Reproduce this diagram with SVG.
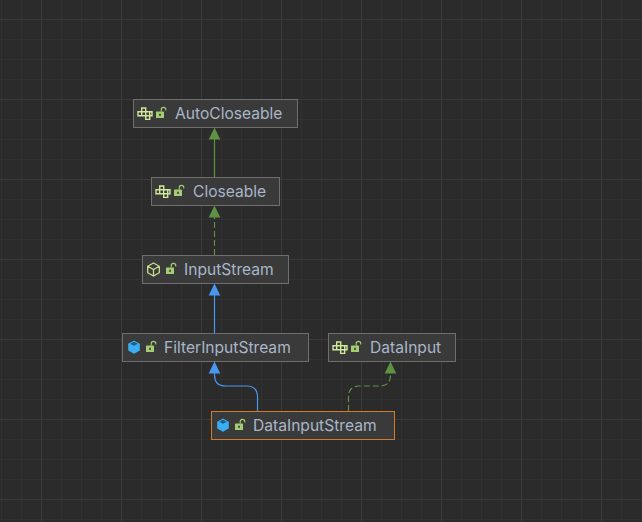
<svg xmlns="http://www.w3.org/2000/svg" width="642" height="522" viewBox="0 0 642 522">
<defs>
<style>
.minor{stroke:#313131;stroke-width:1;fill:none}
.major{stroke:#3a3a3a;stroke-width:1;fill:none}
.box{fill:#3a3a3a;stroke:#6e6e6e;stroke-width:1}
.sel{fill:#3a3a3a;stroke:#d27a2c;stroke-width:1}
.lbl{font-family:"Inter","Liberation Sans",sans-serif;font-size:15.6px;fill:#a8b6c8}
.g{stroke:#5f9142;stroke-width:1.2;fill:none}
.d{stroke-dasharray:6 3}
.b{stroke:#4b97ee;stroke-width:1.2;fill:none}
.ifc{fill:none;stroke:#cfe89a;stroke-width:1.4}
.lock{fill:#a4cc73}
.lockarc{fill:none;stroke:#a4cc73;stroke-width:1.1}
</style>
<g id="iface"><path class="ifc" d="M-7 -2H-3.300V-5.700H0.700V-2H7V2H4.700V5.700H0.700V2H-7Z M-3.300 -2V2 M0.700 -2V2 M-3.300 -2H0.700 M0.700 2H4.700 M4.700 -2V2"/></g>
<g id="lk"><rect class="lock" x="-4" y="-1.500" width="8" height="6.500" rx="0.500"/><path class="lockarc" d="M1.200 -1.500v-1.800a2.300 2.300 0 0 1 4.600 0v0.800"/><rect x="-0.800" y="0.700" width="1.600" height="2.200" fill="#3a3a3a"/></g>
<g id="solid"><path d="M-5.800 -3.200L0 -6.500L5.800 -3.200V3.500L0 6.800L-5.800 3.500Z" fill="#3aaef0"/><path d="M-3.800 -3.200L0 -5.200L3.800 -3.200L0 -1.200Z" fill="#1f5f85"/></g>
<g id="up-g"><path d="M0 0L5.800 12H-5.800Z" fill="#5f9142"/></g>
<g id="up-b"><path d="M0 0L5.800 12H-5.800Z" fill="#4b97ee"/></g>
</defs>
<rect width="642" height="522" fill="#2b2b2b"/>
<path class="minor" d="M1.500 0V522M21.500 0V522M61.500 0V522M81.500 0V522M101.500 0V522M141.500 0V522M161.500 0V522M181.500 0V522M221.500 0V522M241.500 0V522M261.500 0V522M301.500 0V522M321.500 0V522M341.500 0V522M381.500 0V522M401.500 0V522M421.500 0V522M461.500 0V522M481.500 0V522M501.500 0V522M541.500 0V522M561.500 0V522M581.500 0V522M621.500 0V522M641.500 0V522M0 39.500H642M0 59.500H642M0 79.500H642M0 119.500H642M0 139.500H642M0 159.500H642M0 199.500H642M0 219.500H642M0 239.500H642M0 279.500H642M0 299.500H642M0 319.500H642M0 359.500H642M0 379.500H642M0 399.500H642M0 439.500H642M0 459.500H642M0 479.500H642M0 519.500H642"/>
<path class="major" d="M41.500 0V522M121.500 0V522M201.500 0V522M281.500 0V522M361.500 0V522M441.500 0V522M521.500 0V522M601.500 0V522M0 19.500H642M0 99.500H642M0 179.500H642M0 259.500H642M0 339.500H642M0 419.500H642M0 499.500H642"/>
<g id="connectors">
<path class="g" d="M214.500 177V138"/><use href="#up-g" x="214.500" y="127.500"/>
<path class="g d" d="M214.500 255V216"/><use href="#up-g" x="214.500" y="205.500"/>
<path class="b" d="M214.500 333V294"/><use href="#up-b" x="214.500" y="283.500"/>
<path class="b" d="M257.500 411V397Q257.500 386 246.500 386H225.500Q214.500 386 214.500 375V372"/><use href="#up-b" x="214.500" y="361.500"/>
<path class="g d" d="M348.500 411V397Q348.500 386 359.500 386H379.500Q390.500 386 390.500 375V372"/><use href="#up-g" x="390.500" y="361.500"/>
</g>
<g id="AutoCloseable"><rect class="box" x="133.500" y="99.500" width="164" height="28"/><use href="#iface" x="145" y="113.700"/><use href="#lk" x="160" y="113"/><text class="lbl" x="175" y="119">AutoCloseable</text></g>
<g id="Closeable"><rect class="box" x="151.500" y="177.500" width="128" height="28"/><use href="#iface" x="163" y="191.700"/><use href="#lk" x="178" y="191"/><text class="lbl" x="193" y="197">Closeable</text></g>
<g id="InputStream"><rect class="box" x="142.500" y="255.500" width="146" height="28"/><path d="M153.500 263L159.300 266.300V272.700L153.500 276L147.700 272.700V266.300ZM147.700 266.300L153.500 269.500L159.300 266.300M153.500 269.500V276" fill="none" stroke="#c4e08e" stroke-width="1.300"/><use href="#lk" x="170" y="269"/><text class="lbl" x="184" y="275">InputStream</text></g>
<g id="FilterInputStream"><rect class="box" x="122.500" y="333.500" width="186" height="28"/><use href="#solid" x="134" y="347"/><use href="#lk" x="150" y="347"/><text class="lbl" x="164" y="353">FilterInputStream</text></g>
<g id="DataInput"><rect class="box" x="328.500" y="333.500" width="127" height="28"/><use href="#iface" x="340" y="347.700"/><use href="#lk" x="355" y="347"/><text class="lbl" x="370" y="353">DataInput</text></g>
<g id="DataInputStream"><rect class="sel" x="211.500" y="411.500" width="183" height="28"/><use href="#solid" x="223" y="425"/><use href="#lk" x="239" y="425"/><text class="lbl" x="253" y="431">DataInputStream</text></g>
</svg>
